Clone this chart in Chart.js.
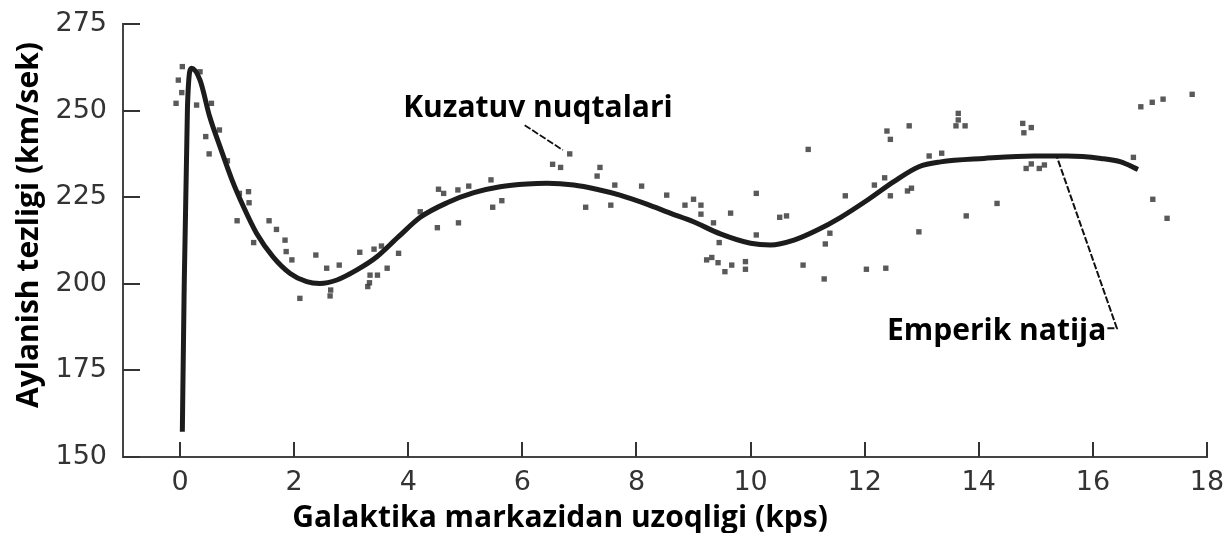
<!DOCTYPE html>
<html>
<head>
<meta charset="utf-8">
<script src="https://cdn.jsdelivr.net/npm/chart.js@4"></script>
<style>
  html, body { margin: 0; padding: 0; background: #fff; }
  #wrap { width: 1227px; height: 533px; }
</style>
</head>
<body>
<div id="wrap"><canvas id="myChart" width="1227" height="533"></canvas></div>
<script>
/* ---------- DATA ---------- */
const xTicks = [0, 2, 4, 6, 8, 10, 12, 14, 16, 18];
const yTicks = [150, 175, 200, 225, 250, 275];

// observed points (kps, km/sek)
const obsX = [0.04, -0.03, 0.03, -0.07, 0.35, 0.29, 0.55, 0.69, 0.45, 0.51,
    0.83, 1.04, 1.2, 1.21, 1.0, 1.56, 1.69, 1.29, 1.84, 1.86,
    1.96, 2.38, 2.57, 2.79, 3.15, 3.4, 3.53, 3.83, 3.63, 3.33,
    3.46, 3.29, 2.64, 2.1, 2.63, 3.32,
    4.21, 4.51, 4.88, 4.53, 4.62, 4.87, 5.06, 5.45, 5.48, 5.64,
    6.53, 6.67, 6.83, 7.36, 7.31, 7.62, 7.11, 7.55, 8.09, 8.53,
    8.85, 9.0, 9.13, 9.13, 9.35, 9.65, 9.45, 9.23, 9.32, 9.43,
    9.55, 9.67, 9.91, 9.91, 10.1, 10.1, 10.51, 10.63, 10.92, 11.01,
    11.29, 11.39, 11.31, 11.66, 12.03, 12.37, 12.17, 12.35, 12.45, 12.75,
    12.82, 12.39, 12.45, 12.95,
    12.78, 13.64, 13.64, 13.6, 13.76, 13.13, 13.35, 13.78, 14.32, 14.77,
    14.92, 14.79, 14.83, 14.92, 15.06, 15.15, 16.84, 17.04, 17.23, 17.74,
    16.71, 17.05, 17.3];
const obsY = [262.7, 258.8, 255.2, 252.1, 261.2, 251.6, 252.1, 244.4, 242.5, 237.5,
    235.5, 226.1, 226.6, 223.4, 218.2, 218.2, 215.7, 211.9, 212.6, 209.3,
    206.9, 208.3, 204.5, 205.4, 209.1, 210, 210.9, 208.8, 204.5, 202.5,
    202.5, 199.2, 198.2, 195.8, 196.5, 200.3,
    220.8, 216.2, 217.6, 227.3, 226.1, 227.1, 228.2, 230, 222.1, 224,
    234.5, 233.6, 237.5, 233.6, 231.1, 228.5, 222.1, 222.7, 228.2, 225.6,
    222.7, 224.4, 222.7, 220.1, 217.6, 220.4, 211.9, 206.9, 207.6, 206.1,
    203.5, 205.4, 206.4, 204.2, 214.1, 226.1, 219.2, 219.6, 205.4, 238.8,
    201.4, 214.6, 211.5, 225.4, 204.2, 204.5, 228.5, 230.6, 225.4, 226.8,
    227.6, 244.1, 241.7, 215,
    245.6, 249.2, 247.3, 245.6, 245.6, 236.9, 237.7, 219.6, 223.2, 246.3,
    245.1, 243.6, 233.3, 234.6, 233.3, 234.3, 251.1, 252.4, 253.3, 254.7,
    236.5, 224.4, 218.9];

// empirical curve
const curveX = [0.04, 0.07, 0.13, 0.2, 0.35, 0.52, 0.7, 0.91, 1.11, 1.34,
    1.63, 1.93, 2.22, 2.45, 2.75, 3.1, 3.45, 3.83, 4.21, 4.68,
    5.15, 5.61, 6.08, 6.43, 6.9, 7.3, 7.71, 8.18, 8.59, 9.0,
    9.47, 10.0, 10.35, 10.76, 11.17, 11.58, 12.05, 12.51, 12.95, 13.33,
    14.09, 14.97, 15.55, 16.14, 16.49, 16.79];
const curveY = [157.3, 196, 251.1, 262.2, 258.8, 248.2, 239.6, 230, 222.3, 214.6,
    207.8, 203, 200.6, 200.1, 201.1, 204, 207.8, 213.6, 219.2, 223.4,
    226.3, 228, 228.8, 229, 228.5, 227.3, 225.6, 223, 220.4, 217.9,
    214.4, 211.7, 211.2, 212.6, 215.5, 219.2, 224.2, 229.5, 233.8, 235.2,
    236.2, 236.9, 236.9, 236.2, 235.2, 233];

const xTitle = 'Galaktika markazidan uzoqligi (kps)';
const yTitle = 'Aylanish tezligi (km/sek)';
const obsLabel = 'Kuzatuv nuqtalari';
const fitLabel = 'Emperik natija';

/* ---------- DECORATIONS ---------- */
const TITLE_FONT = 'bold 30px "Open Sans"';

const decorPlugin = {
    id: 'decor',
    afterDraw(chart) {
        const { ctx, scales: { x, y } } = chart;
        ctx.save();

        // inward tick marks
        ctx.strokeStyle = '#333';
        ctx.lineWidth = 2;
        ctx.beginPath();
        xTicks.forEach(v => {
            const px = Math.round(x.getPixelForValue(v));
            ctx.moveTo(px, y.bottom);
            ctx.lineTo(px, y.bottom - 15);
        });
        yTicks.forEach(v => {
            const py = Math.round(y.getPixelForValue(v));
            ctx.moveTo(x.left, py);
            ctx.lineTo(x.left + 17, py);
        });
        ctx.stroke();

        // axis titles
        ctx.fillStyle = '#000';
        ctx.font = TITLE_FONT;
        ctx.textAlign = 'center';
        ctx.textBaseline = 'alphabetic';
        ctx.fillText(xTitle, 560, 527);

        ctx.save();
        ctx.translate(38, 225);
        ctx.rotate(-Math.PI / 2);
        ctx.fillText(yTitle, 0, 0);
        ctx.restore();

        // "Kuzatuv nuqtalari" label and pointer
        ctx.textAlign = 'left';
        ctx.fillText(obsLabel, x.getPixelForValue(3.91), y.getPixelForValue(248.2));

        ctx.strokeStyle = '#111';
        ctx.lineWidth = 1.8;
        ctx.setLineDash([7, 2]);
        ctx.beginPath();
        ctx.moveTo(x.getPixelForValue(6.04), y.getPixelForValue(245.8));
        ctx.lineTo(x.getPixelForValue(6.71), y.getPixelForValue(238.6));
        ctx.stroke();

        // "Emperik natija" label and pointer
        const ex = x.getPixelForValue(12.39);
        const ey = y.getPixelForValue(183.8);
        ctx.fillText(fitLabel, ex, ey);
        const tw = ctx.measureText(fitLabel).width;
        ctx.lineWidth = 2;
        ctx.beginPath();
        ctx.moveTo(ex + tw + 1, y.getPixelForValue(187.2));
        ctx.lineTo(x.getPixelForValue(16.42), y.getPixelForValue(187.2));
        ctx.lineTo(x.getPixelForValue(15.37), y.getPixelForValue(236.6));
        ctx.stroke();

        ctx.restore();
    }
};

/* ---------- CHART ---------- */
const ctx = document.getElementById('myChart').getContext('2d');

new Chart(ctx, {
    type: 'scatter',
    data: {
        datasets: [{
            label: fitLabel,
            data: curveX.map((v, i) => ({ x: v, y: curveY[i] })),
            showLine: true,
            borderColor: '#1c1c1c',
            borderWidth: 5,
            pointRadius: 0,
            cubicInterpolationMode: 'monotone'
        }, {
            label: obsLabel,
            data: obsX.map((v, i) => ({ x: v, y: obsY[i] })),
            pointStyle: 'rect',
            pointRadius: 3.8,
            backgroundColor: 'rgba(60, 60, 60, 0.85)',
            borderWidth: 0
        }]
    },
    options: {
        responsive: false,
        animation: false,
        layout: { padding: { top: 24, right: 20, left: 0, bottom: 0 } },
        plugins: {
            legend: { display: false },
            tooltip: { enabled: false }
        },
        scales: {
            x: {
                type: 'linear',
                min: -1,
                max: 18,
                afterBuildTicks: s => { s.ticks = xTicks.map(v => ({ value: v })); },
                afterFit: s => {
                    s.height = 76;
                    s.paddingLeft = 0;
                    s.paddingRight = 0;
                },
                grid: { display: false, drawTicks: false },
                border: { display: true, color: '#444', width: 2 },
                ticks: {
                    padding: 10,
                    color: '#333',
                    font: { family: 'DejaVu Sans', size: 27, lineHeight: 1.2 },
                    maxRotation: 0
                }
            },
            y: {
                min: 150,
                max: 275,
                afterBuildTicks: s => { s.ticks = yTicks.map(v => ({ value: v })); },
                afterFit: s => {
                    s.width = 123;
                    s.paddingTop = 0;
                    s.paddingBottom = 0;
                },
                grid: { display: false, drawTicks: false },
                border: { display: true, color: '#444', width: 2 },
                ticks: {
                    padding: 16,
                    color: '#333',
                    font: { family: 'DejaVu Sans', size: 27, lineHeight: 1.2 }
                }
            }
        }
    },
    plugins: [decorPlugin]
});
</script>
</body>
</html>
